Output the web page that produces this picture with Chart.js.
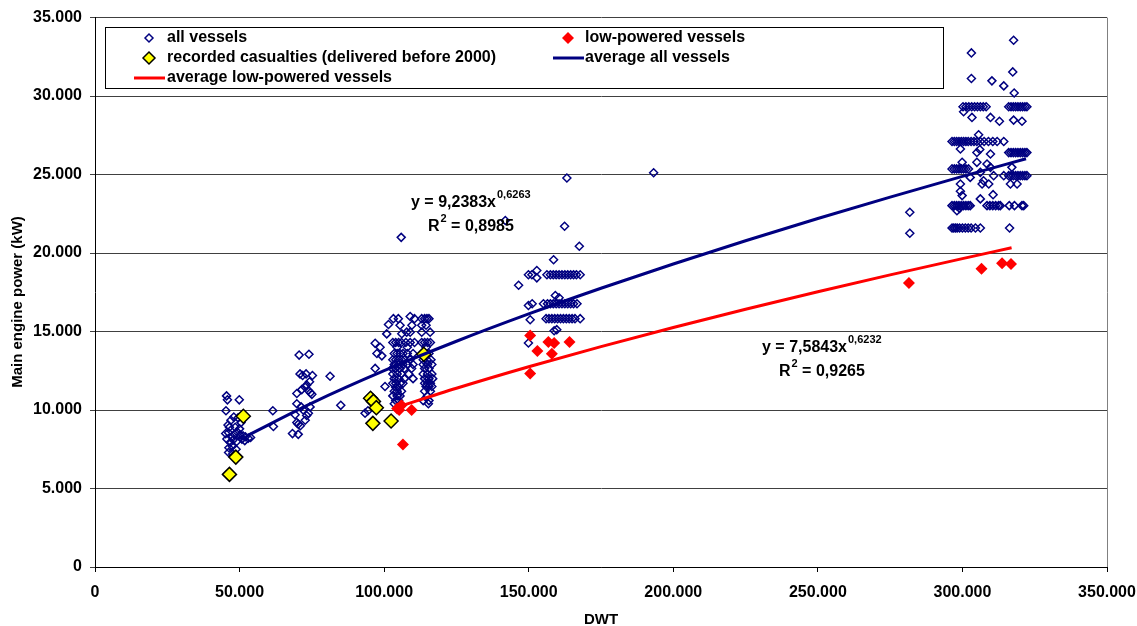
<!DOCTYPE html>
<html><head><meta charset="utf-8">
<script src="https://cdn.jsdelivr.net/npm/chart.js@4"></script>
<style>html,body{margin:0;padding:0;background:#fff}#wrap{width:1137px;height:626px;position:relative}</style>
</head><body><div id="wrap"><canvas id="c" width="1137" height="626"></canvas></div>
<script>
// ---- data (DWT, main engine power kW) ----
const allVessels = [
 [45500,10900],[45800,10650],[49900,10650],[45300,9950],
 [46000,9050],[47000,9350],[48000,9550],[49500,9500],[50500,9200],[46500,8900],[48500,8900],[50000,8800],
 [45200,8500],[46200,8550],[47200,8300],[48200,8450],[49200,8600],[50200,8400],[51200,8350],[52000,8300],[53000,8200],[53800,8250],
 [45600,8150],[46800,7950],[47800,8100],[49000,8000],[50800,8150],[51800,8050],
 [46300,7600],[47500,7700],[48800,7500],[46200,7300],[47600,7200],
 [61500,9950],[61700,8950],
 [70600,13500],[74000,13550],
 [70900,12300],[71800,12200],[73000,12300],[75200,12200],[81300,12150],
 [72700,11450],[73800,11250],[74500,11100],[69800,11050],[71500,11300],[73200,11600],[74200,11800],[75000,11000],
 [69800,10400],[71300,10200],[74400,10200],[72000,10000],
 [69200,9700],[73200,9650],[73800,9800],
 [69800,9200],[72700,9350],[70300,9100],[71000,9000],
 [68300,8500],[70300,8450],[85000,10300],
 [105900,21000],[141900,22070],
 [93400,9800],[94400,9950],[96900,12650],[100300,11500],[97500,13600],[99200,13450],[96900,14250],[98600,14000],[100900,14850],[101500,15450],
 [103200,15820],[104900,15820],[109000,15960],[110500,15820],[113000,15820],[114000,15820],[114800,15820],[115500,15820],
 [105500,15400],[109600,15400],[113000,15400],[114500,15400],
 [106100,14860],[107800,14960],[109000,14960],[113000,14960],[115900,14960],
 [103000,14300],[104000,14300],[105000,14300],[106000,14300],[107500,14300],[109000,14300],[110500,14300],[113000,14300],[114000,14300],[115000,14300],[116000,14300],
 [104500,14000],[108000,14000],[114500,14000],
 [103500,13600],[104500,13600],[105500,13600],[106500,13600],[108000,13600],[110000,13600],[113000,13600],[115500,13600],
 [103000,13200],[104000,13200],[105000,13200],[106000,13200],[107000,13200],[109000,13200],[113500,13200],[114800,13200],[116200,13200],
 [103500,12900],[105000,12900],[106500,12900],[108000,12900],[110000,12900],[113500,12900],[115000,12900],[116500,12900],
 [102800,12650],[104000,12650],[105500,12650],[107000,12650],[109500,12650],[114000,12650],[115500,12650],
 [103000,12300],[104500,12300],[106000,12300],[108500,12300],[113500,12300],[115000,12300],[116500,12300],
 [103500,12000],[105000,12000],[107000,12000],[110000,12000],[114000,12000],[115500,12000],[116800,12000],
 [103000,11700],[104000,11700],[105500,11700],[106500,11700],[114000,11700],[115000,11700],[116000,11700],
 [104000,11450],[105000,11450],[114500,11500],[115500,11500],[116500,11500],
 [103500,11200],[104500,11200],[106000,11200],[114000,11200],[116000,11200],
 [103000,10900],[104500,10900],[105500,10900],[115000,10900],
 [104000,10600],[105000,10600],[113500,10600],[115500,10600],
 [103500,10400],[115300,10400],
 [163200,24780],[193200,25120],[162400,21710],[167500,20430],[158600,19570],
 [149900,18620],[151100,18620],[152800,18420],[152800,18890],[156300,18620],[157500,18620],[158500,18620],[159500,18620],[160500,18620],[161500,18620],[162500,18620],[163500,18620],[164500,18620],[165500,18620],[166500,18620],[167800,18620],
 [146500,17950],[159200,17300],[160500,17150],
 [149900,16660],[151200,16770],[155100,16770],[156500,16770],[157500,16770],[158500,16770],[159500,16770],[160500,16770],[161500,16770],[162500,16770],[163500,16770],[164500,16770],[165500,16770],[166700,16770],
 [150500,15750],[156000,15820],[157000,15820],[158000,15820],[159000,15820],[160000,15820],[161000,15820],[162000,15820],[163000,15820],[164000,15820],[165000,15820],[166000,15820],[167800,15820],
 [159700,15120],[158800,15050],[149900,14270],
 [317700,33560],[303100,32750],[303100,31120],[310200,30970],[314300,30650],[317400,31540],[317900,30200],
 [300200,29320],[301200,29320],[302200,29320],[303200,29320],[304200,29320],[305200,29320],[306200,29320],[307200,29320],[308200,29320],
 [316000,29320],[316800,29320],[317600,29320],[318400,29320],[319200,29320],[320000,29320],[320800,29320],[321600,29320],[322300,29320],
 [300400,29000],[303300,28640],[309700,28640],[312800,28400],[317700,28470],[320600,28400],[305600,27540],
 [296400,27110],[297200,27110],[298000,27110],[298800,27110],[299600,27110],[300400,27110],[301200,27110],[302000,27110],[303000,27110],[304000,27110],[305000,27110],[306200,27110],[307500,27110],[309000,27110],[310500,27110],[312000,27110],[314300,27110],
 [305000,26410],[306000,26600],[309700,26310],[299300,26630],
 [316000,26400],[316800,26400],[317600,26400],[318400,26400],[319200,26400],[320000,26400],[320800,26400],[321600,26400],[322300,26400],
 [299900,25780],[305000,25780],[308500,25670],[317100,25460],
 [296400,25360],[297200,25360],[298000,25360],[298800,25360],[299600,25360],[300400,25360],[301200,25360],[302100,25360],
 [306200,25140],[309700,25460],[314300,24930],[310800,24930],[302700,24820],[307300,24610],
 [316000,24930],[316800,24930],[317600,24930],[318400,24930],[319200,24930],[320000,24930],[320800,24930],[321600,24930],[322300,24930],
 [299300,24400],[306800,24400],[309100,24400],[316600,24400],[318900,24400],
 [299300,23940],[299900,23660],[310600,23720],[306200,23450],
 [296400,23020],[297200,23020],[298000,23020],[298800,23020],[299600,23020],[300400,23020],[301200,23020],[302000,23020],[302700,23020],
 [308500,23020],[309500,23020],[310500,23020],[311500,23020],[312500,23020],[313100,23020],[316200,23020],[318000,23020],[320600,23020],[321200,23020],
 [298100,22700],[299000,22850],
 [296400,21600],[297000,21600],[297600,21600],[298200,21600],[299000,21600],[300000,21600],[301000,21600],[302000,21600],[303000,21600],[304500,21600],[306200,21600],[316300,21600],
 [281800,22600],[281800,21260]
];
const casualties = [
 [46500,5900],[48700,7000],[51300,9600],[95300,10750],[96300,10550],[97300,10150],[96100,9150],[102400,9300],[113700,13550]
];
const lowPowered = [
 [104500,10100],[106000,10300],[105200,10000],[109500,10000],[106500,7800],
 [150500,14750],[153000,13760],[156800,14330],[158800,14270],[158000,13590],[164100,14330],[150500,12320],
 [281500,18100],[306600,19000],[313700,19350],[316800,19310]
];
const avgAllDWT = [53000,75000,100000,125000,150000,175000,200000,225000,250000,275000,300000,322000];
const avgAllKW  = [8403,10443,12505,14381,16121,17756,19305,20783,22198,23564,24883,26011];
const avgLowDWT = [104000,125000,150000,175000,200000,225000,250000,275000,300000,317000];
const avgLowKW  = [10153,11385,12755,14042,15260,16423,17537,18611,19647,20333];
const xTicks = [0,50000,100000,150000,200000,250000,300000,350000];
const yTicks = [0,5000,10000,15000,20000,25000,30000,35000];
const legendLabels = ['all vessels','low-powered vessels','recorded casualties (delivered before 2000)','average all vessels','average low-powered vessels'];
const eqAll = ['y = 9,2383x','0,6263','R','2',' = 0,8985'];
const eqLow = ['y = 7,5843x','0,6232','R','2',' = 0,9265'];
const yTitle = 'Main engine power (kW)';
const xTitle = 'DWT';

const FONT = "'Liberation Sans', Arial, sans-serif";
const fmt = v => String(v).replace(/\B(?=(\d{3})+(?!\d))/g, '.');
const toXY = arr => arr.map(p => ({x:p[0], y:p[1]}));
const zip = (xs, ys) => xs.map((x,i) => ({x, y: ys[i]}));

function diamond(ctx, x, y, r, fill, stroke, lw){
  ctx.beginPath();
  ctx.moveTo(x - r, y); ctx.lineTo(x, y - r); ctx.lineTo(x + r, y); ctx.lineTo(x, y + r); ctx.closePath();
  if (fill) { ctx.fillStyle = fill; ctx.fill(); }
  if (stroke) { ctx.strokeStyle = stroke; ctx.lineWidth = lw; ctx.stroke(); }
}

const decor = {
  id: 'decor',
  beforeDatasetsDraw(chart){
    const {ctx, chartArea:a} = chart;
    ctx.save();
    ctx.strokeStyle = '#808080'; ctx.lineWidth = 1;
    ctx.beginPath(); ctx.moveTo(Math.round(a.right)+0.5, a.top); ctx.lineTo(Math.round(a.right)+0.5, a.bottom); ctx.stroke();
    ctx.restore();
  },
  afterDraw(chart){
    const ctx = chart.ctx;
    const a = chart.chartArea;
    ctx.save();
    // y axis title
    ctx.save();
    ctx.translate(18, 302); ctx.rotate(-Math.PI/2);
    ctx.font = 'bold 15px ' + FONT; ctx.fillStyle = '#000'; ctx.textAlign = 'center'; ctx.textBaseline = 'middle';
    ctx.fillText(yTitle, 0, 0);
    ctx.restore();
    // legend box
    ctx.fillStyle = '#fff'; ctx.fillRect(105, 27, 838, 61);
    ctx.strokeStyle = '#000'; ctx.lineWidth = 1; ctx.strokeRect(105.5, 27.5, 838, 61);
    ctx.font = 'bold 16px ' + FONT; ctx.fillStyle = '#000'; ctx.textBaseline = 'middle'; ctx.textAlign = 'left';
    diamond(ctx, 149, 38, 4, null, '#000080', 1.5);
    ctx.fillStyle = '#000'; ctx.fillText(legendLabels[0], 167, 38);
    diamond(ctx, 568, 38, 6, '#FF0000', null, 0);
    ctx.fillStyle = '#000'; ctx.fillText(legendLabels[1], 585, 38);
    diamond(ctx, 149, 58, 6, '#FFFF00', '#000', 1.5);
    ctx.fillStyle = '#000'; ctx.fillText(legendLabels[2], 167, 58);
    ctx.strokeStyle = '#000080'; ctx.lineWidth = 3; ctx.beginPath(); ctx.moveTo(553, 58); ctx.lineTo(584, 58); ctx.stroke();
    ctx.fillStyle = '#000'; ctx.fillText(legendLabels[3], 585, 58);
    ctx.strokeStyle = '#FF0000'; ctx.lineWidth = 3; ctx.beginPath(); ctx.moveTo(134, 78); ctx.lineTo(165, 78); ctx.stroke();
    ctx.fillStyle = '#000'; ctx.fillText(legendLabels[4], 167, 78);
    // trend equations
    const drawEq = (eq, x, y) => {
      ctx.textBaseline = 'alphabetic'; ctx.fillStyle = '#000';
      ctx.font = 'bold 16px ' + FONT;
      ctx.fillText(eq[0], x, y);
      const w = ctx.measureText(eq[0]).width;
      ctx.font = 'bold 11px ' + FONT;
      ctx.fillText(eq[1], x + w + 1, y - 9);
      const x2 = x + 17;
      ctx.font = 'bold 16px ' + FONT;
      ctx.fillText(eq[2], x2, y + 24);
      const wr = ctx.measureText(eq[2]).width;
      ctx.font = 'bold 11px ' + FONT;
      ctx.fillText(eq[3], x2 + wr + 1, y + 15);
      const w2 = ctx.measureText(eq[3]).width;
      ctx.font = 'bold 16px ' + FONT;
      ctx.fillText(eq[4], x2 + wr + w2 + 1, y + 24);
    };
    drawEq(eqAll, 411, 207);
    drawEq(eqLow, 762, 352);
    ctx.restore();
  }
};

new Chart(document.getElementById('c'), {
  type: 'scatter',
  data: {
    datasets: [
      { type:'line', label:'average all vessels', data: zip(avgAllDWT, avgAllKW), borderColor:'#000080', borderWidth:3, pointRadius:0, fill:false, cubicInterpolationMode:'monotone' },
      { type:'line', label:'average low-powered vessels', data: zip(avgLowDWT, avgLowKW), borderColor:'#FF0000', borderWidth:3, pointRadius:0, fill:false, cubicInterpolationMode:'monotone' },
      { label:'recorded casualties (delivered before 2000)', data: toXY(casualties), pointStyle:'rectRot', pointRadius:7, backgroundColor:'#FFFF00', borderColor:'#000', borderWidth:1.5 },
      { label:'low-powered vessels', data: toXY(lowPowered), pointStyle:'rectRot', pointRadius:6, backgroundColor:'#FF0000', borderColor:'#FF0000', borderWidth:0 },
      { label:'all vessels', data: toXY(allVessels), pointStyle:'rectRot', pointRadius:4, backgroundColor:'rgba(255,255,255,0)', borderColor:'#000080', borderWidth:1.5 }
    ]
  },
  options: {
    responsive: false, animation: false, devicePixelRatio: 1,
    layout: { padding: { top: 17, right: 30, left: 0, bottom: 0 } },
    plugins: { legend: { display:false }, tooltip: { enabled:false } },
    scales: {
      x: {
        type:'linear', min:0, max:350000,
        afterBuildTicks: s => { s.ticks = xTicks.map(v => ({value:v})); },
        afterFit: s => { s.height = 59; s.paddingRight = 0; s.paddingLeft = 0; },
        grid: { drawOnChartArea:false, drawTicks:true, tickLength:5, color:'#000' },
        border: { color:'#000', width:1 },
        ticks: { color:'#000', font:{ family:FONT, size:16, weight:'bold' }, padding:11, maxRotation:0, callback: v => fmt(v) },
        title: { display:true, text:xTitle, color:'#000', font:{ family:FONT, size:15, weight:'bold' }, padding:{ top:0, bottom:-3 } }
      },
      y: {
        type:'linear', min:0, max:35000,
        afterBuildTicks: s => { s.ticks = yTicks.map(v => ({value:v})); },
        afterFit: s => { s.width = 95; },
        grid: { color:'#404040', lineWidth:1, drawTicks:true, tickLength:5 },
        border: { color:'#000', width:1 },
        ticks: { color:'#000', font:{ family:FONT, size:16, weight:'bold' }, padding:8, callback: v => fmt(v) },
        title: { display:false }
      }
    }
  },
  plugins: [decor]
});
</script>
</body></html>
